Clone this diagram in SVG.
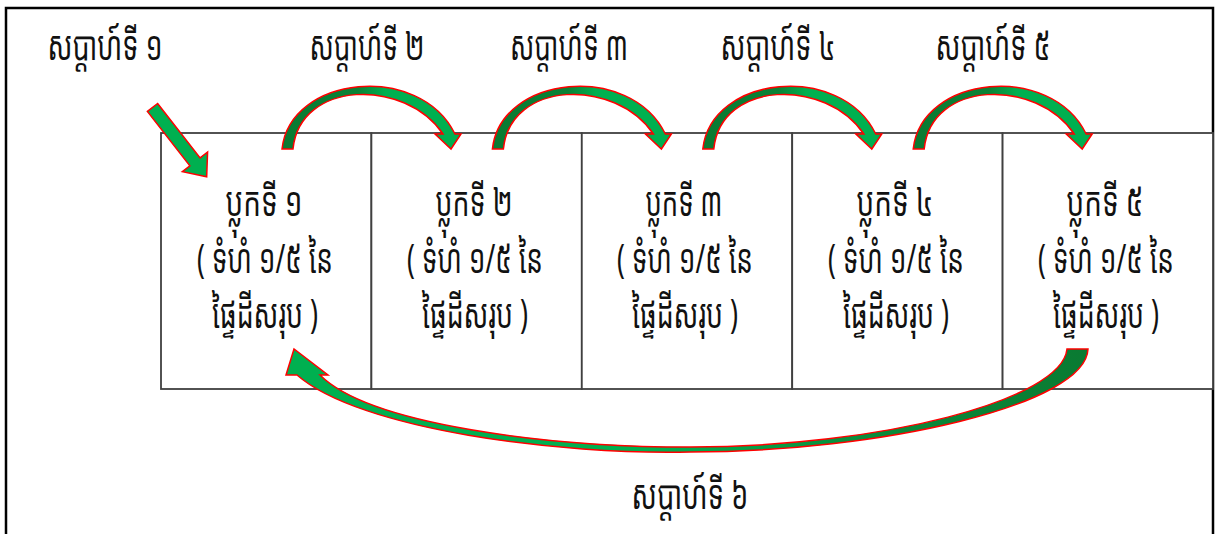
<svg xmlns="http://www.w3.org/2000/svg" width="1216" height="534" viewBox="0 0 1216 534">
<defs>
<style>
.lbl{font-family:"Noto Sans Khmer","Noto Serif Khmer","Noto Sans","DejaVu Sans",sans-serif;font-size:40px;fill:#111;text-anchor:middle}
.cell{fill:#fff;stroke:#404040;stroke-width:1.8}
.arr{stroke:#ff0000;stroke-width:1.5;stroke-linejoin:miter}
</style>
<linearGradient id="gTop" x1="0" y1="0" x2="1" y2="0">
<stop offset="0" stop-color="#0a7a32"/>
<stop offset="0.42" stop-color="#0a8236"/>
<stop offset="0.58" stop-color="#00b050"/>
<stop offset="1" stop-color="#00b050"/>
</linearGradient>
<linearGradient id="gBot" x1="0" y1="0" x2="1" y2="0">
<stop offset="0" stop-color="#00b050"/>
<stop offset="0.45" stop-color="#00b050"/>
<stop offset="0.75" stop-color="#0a8a3a"/>
<stop offset="1" stop-color="#0a7a32"/>
</linearGradient>
<path id="curveTop" d="M282,149 C290,75 420,62 455,134 L461,134 L451,149 L435,134 L443,134 C405,78 300,80 293,149 Z"/>
</defs>
<rect x="6" y="8" width="1207" height="540" fill="#fff" stroke="#000" stroke-width="2.5"/>

<g id="block1"><rect class="cell" x="161" y="133" width="210.4" height="256"/>
<text class="lbl" x="264" y="216" textLength="77" lengthAdjust="spacingAndGlyphs">ប្លុកទី ១</text><text class="lbl" transform="translate(265,273) scale(0.66,1)" x="0" y="0" textLength="206" lengthAdjust="spacingAndGlyphs">( ទំហំ ១/៥ នៃ</text><text class="lbl" x="265" y="328" textLength="106" lengthAdjust="spacingAndGlyphs">ផ្ទៃដីសរុប )</text></g>
<g id="block2"><rect class="cell" x="371.4" y="133" width="210.4" height="256"/>
<text class="lbl" x="474" y="216" textLength="77" lengthAdjust="spacingAndGlyphs">ប្លុកទី ២</text><text class="lbl" transform="translate(475,273) scale(0.66,1)" x="0" y="0" textLength="206" lengthAdjust="spacingAndGlyphs">( ទំហំ ១/៥ នៃ</text><text class="lbl" x="475" y="328" textLength="106" lengthAdjust="spacingAndGlyphs">ផ្ទៃដីសរុប )</text></g>
<g id="block3"><rect class="cell" x="581.8" y="133" width="210.4" height="256"/>
<text class="lbl" x="684" y="216" textLength="77" lengthAdjust="spacingAndGlyphs">ប្លុកទី ៣</text><text class="lbl" transform="translate(685,273) scale(0.66,1)" x="0" y="0" textLength="206" lengthAdjust="spacingAndGlyphs">( ទំហំ ១/៥ នៃ</text><text class="lbl" x="685" y="328" textLength="106" lengthAdjust="spacingAndGlyphs">ផ្ទៃដីសរុប )</text></g>
<g id="block4"><rect class="cell" x="792.2" y="133" width="210.4" height="256"/>
<text class="lbl" x="895" y="216" textLength="77" lengthAdjust="spacingAndGlyphs">ប្លុកទី ៤</text><text class="lbl" transform="translate(896,273) scale(0.66,1)" x="0" y="0" textLength="206" lengthAdjust="spacingAndGlyphs">( ទំហំ ១/៥ នៃ</text><text class="lbl" x="896" y="328" textLength="106" lengthAdjust="spacingAndGlyphs">ផ្ទៃដីសរុប )</text></g>
<g id="block5"><rect class="cell" x="1002.6" y="133" width="210.4" height="256"/>
<text class="lbl" x="1105" y="216" textLength="77" lengthAdjust="spacingAndGlyphs">ប្លុកទី ៥</text><text class="lbl" transform="translate(1106,273) scale(0.66,1)" x="0" y="0" textLength="206" lengthAdjust="spacingAndGlyphs">( ទំហំ ១/៥ នៃ</text><text class="lbl" x="1106" y="328" textLength="106" lengthAdjust="spacingAndGlyphs">ផ្ទៃដីសរុប )</text></g>

<g id="labels">
<text class="lbl" x="105" y="60" textLength="115" lengthAdjust="spacingAndGlyphs">សប្ដាហ៍ទី ១</text>
<text class="lbl" x="367" y="60" textLength="115" lengthAdjust="spacingAndGlyphs">សប្ដាហ៍ទី ២</text>
<text class="lbl" x="569" y="60" textLength="118" lengthAdjust="spacingAndGlyphs">សប្ដាហ៍ទី ៣</text>
<text class="lbl" x="778" y="60" textLength="115" lengthAdjust="spacingAndGlyphs">សប្ដាហ៍ទី ៤</text>
<text class="lbl" x="993" y="60" textLength="115" lengthAdjust="spacingAndGlyphs">សប្ដាហ៍ទី ៥</text>
<text class="lbl" x="690" y="509" textLength="117" lengthAdjust="spacingAndGlyphs">សប្ដាហ៍ទី ៦</text>
</g>

<g id="connectors">
<g transform="translate(152.5,107.5) rotate(52)"><path class="arr" fill="#00b050" d="M0,-6.5 L69,-6.5 L69,-16 L88,0 L69,16 L69,6.5 L0,6.5 Z"/></g>
<use href="#curveTop" class="arr" fill="url(#gTop)"/>
<use href="#curveTop" class="arr" fill="url(#gTop)" transform="translate(210.4,0)"/>
<use href="#curveTop" class="arr" fill="url(#gTop)" transform="translate(420.8,0)"/>
<use href="#curveTop" class="arr" fill="url(#gTop)" transform="translate(631.2,0)"/>
<path class="arr" fill="url(#gBot)" d="M1088,349 C1086,405 880,452 690,452 C560,455 360,430 297,375 L286,375 L294,349 L328,375 L320,375 C370,425 550,447 690,447 C880,447 1062,400 1067,349 Z"/>
</g>
</svg>
